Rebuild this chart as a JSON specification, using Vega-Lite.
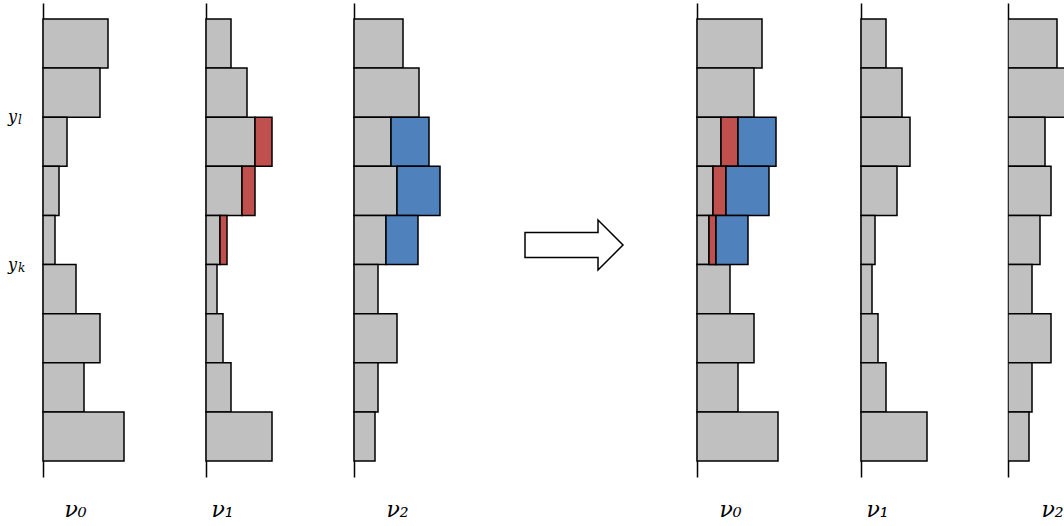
{
  "$schema": "https://vega.github.io/schema/vega-lite/v6.json",
  "autosize": {"type": "pad"},
  "padding": {"left": 7, "top": 3, "right": 0, "bottom": 0},
  "bounds": "flush",
  "spacing": 0,
  "config": {
    "view": {"stroke": null},
    "font": "DejaVu Serif"
  },
  "data": {
    "values": [
      {"stage": "before", "node": "ν₀", "bin": 0, "share": "held", "count": 6.5},
      {"stage": "before", "node": "ν₀", "bin": 1, "share": "held", "count": 5.7},
      {"stage": "before", "node": "ν₀", "bin": 2, "share": "held", "count": 2.4},
      {"stage": "before", "node": "ν₀", "bin": 3, "share": "held", "count": 1.6},
      {"stage": "before", "node": "ν₀", "bin": 4, "share": "held", "count": 1.2},
      {"stage": "before", "node": "ν₀", "bin": 5, "share": "held", "count": 3.3},
      {"stage": "before", "node": "ν₀", "bin": 6, "share": "held", "count": 5.7},
      {"stage": "before", "node": "ν₀", "bin": 7, "share": "held", "count": 4.1},
      {"stage": "before", "node": "ν₀", "bin": 8, "share": "held", "count": 8.1},

      {"stage": "before", "node": "ν₁", "bin": 0, "share": "held", "count": 2.5},
      {"stage": "before", "node": "ν₁", "bin": 1, "share": "held", "count": 4.1},
      {"stage": "before", "node": "ν₁", "bin": 2, "share": "held", "count": 4.9},
      {"stage": "before", "node": "ν₁", "bin": 3, "share": "held", "count": 3.6},
      {"stage": "before", "node": "ν₁", "bin": 4, "share": "held", "count": 1.4},
      {"stage": "before", "node": "ν₁", "bin": 5, "share": "held", "count": 1.1},
      {"stage": "before", "node": "ν₁", "bin": 6, "share": "held", "count": 1.7},
      {"stage": "before", "node": "ν₁", "bin": 7, "share": "held", "count": 2.5},
      {"stage": "before", "node": "ν₁", "bin": 8, "share": "held", "count": 6.6},
      {"stage": "before", "node": "ν₁", "bin": 2, "share": "moved from ν₁", "count": 1.7},
      {"stage": "before", "node": "ν₁", "bin": 3, "share": "moved from ν₁", "count": 1.3},
      {"stage": "before", "node": "ν₁", "bin": 4, "share": "moved from ν₁", "count": 0.7},

      {"stage": "before", "node": "ν₂", "bin": 0, "share": "held", "count": 4.9},
      {"stage": "before", "node": "ν₂", "bin": 1, "share": "held", "count": 6.5},
      {"stage": "before", "node": "ν₂", "bin": 2, "share": "held", "count": 3.7},
      {"stage": "before", "node": "ν₂", "bin": 3, "share": "held", "count": 4.3},
      {"stage": "before", "node": "ν₂", "bin": 4, "share": "held", "count": 3.2},
      {"stage": "before", "node": "ν₂", "bin": 5, "share": "held", "count": 2.4},
      {"stage": "before", "node": "ν₂", "bin": 6, "share": "held", "count": 4.3},
      {"stage": "before", "node": "ν₂", "bin": 7, "share": "held", "count": 2.4},
      {"stage": "before", "node": "ν₂", "bin": 8, "share": "held", "count": 2.1},
      {"stage": "before", "node": "ν₂", "bin": 2, "share": "moved from ν₂", "count": 3.8},
      {"stage": "before", "node": "ν₂", "bin": 3, "share": "moved from ν₂", "count": 4.3},
      {"stage": "before", "node": "ν₂", "bin": 4, "share": "moved from ν₂", "count": 3.2},

      {"stage": "after", "node": "ν₀", "bin": 0, "share": "held", "count": 6.5},
      {"stage": "after", "node": "ν₀", "bin": 1, "share": "held", "count": 5.7},
      {"stage": "after", "node": "ν₀", "bin": 2, "share": "held", "count": 2.4},
      {"stage": "after", "node": "ν₀", "bin": 3, "share": "held", "count": 1.6},
      {"stage": "after", "node": "ν₀", "bin": 4, "share": "held", "count": 1.2},
      {"stage": "after", "node": "ν₀", "bin": 5, "share": "held", "count": 3.3},
      {"stage": "after", "node": "ν₀", "bin": 6, "share": "held", "count": 5.7},
      {"stage": "after", "node": "ν₀", "bin": 7, "share": "held", "count": 4.1},
      {"stage": "after", "node": "ν₀", "bin": 8, "share": "held", "count": 8.1},
      {"stage": "after", "node": "ν₀", "bin": 2, "share": "moved from ν₁", "count": 1.7},
      {"stage": "after", "node": "ν₀", "bin": 3, "share": "moved from ν₁", "count": 1.3},
      {"stage": "after", "node": "ν₀", "bin": 4, "share": "moved from ν₁", "count": 0.7},
      {"stage": "after", "node": "ν₀", "bin": 2, "share": "moved from ν₂", "count": 3.8},
      {"stage": "after", "node": "ν₀", "bin": 3, "share": "moved from ν₂", "count": 4.3},
      {"stage": "after", "node": "ν₀", "bin": 4, "share": "moved from ν₂", "count": 3.2},

      {"stage": "after", "node": "ν₁", "bin": 0, "share": "held", "count": 2.5},
      {"stage": "after", "node": "ν₁", "bin": 1, "share": "held", "count": 4.1},
      {"stage": "after", "node": "ν₁", "bin": 2, "share": "held", "count": 4.9},
      {"stage": "after", "node": "ν₁", "bin": 3, "share": "held", "count": 3.6},
      {"stage": "after", "node": "ν₁", "bin": 4, "share": "held", "count": 1.4},
      {"stage": "after", "node": "ν₁", "bin": 5, "share": "held", "count": 1.1},
      {"stage": "after", "node": "ν₁", "bin": 6, "share": "held", "count": 1.7},
      {"stage": "after", "node": "ν₁", "bin": 7, "share": "held", "count": 2.5},
      {"stage": "after", "node": "ν₁", "bin": 8, "share": "held", "count": 6.6},

      {"stage": "after", "node": "ν₂", "bin": 0, "share": "held", "count": 4.9},
      {"stage": "after", "node": "ν₂", "bin": 1, "share": "held", "count": 6.5},
      {"stage": "after", "node": "ν₂", "bin": 2, "share": "held", "count": 3.7},
      {"stage": "after", "node": "ν₂", "bin": 3, "share": "held", "count": 4.3},
      {"stage": "after", "node": "ν₂", "bin": 4, "share": "held", "count": 3.2},
      {"stage": "after", "node": "ν₂", "bin": 5, "share": "held", "count": 2.4},
      {"stage": "after", "node": "ν₂", "bin": 6, "share": "held", "count": 4.3},
      {"stage": "after", "node": "ν₂", "bin": 7, "share": "held", "count": 2.4},
      {"stage": "after", "node": "ν₂", "bin": 8, "share": "held", "count": 2.1}
    ]
  },
  "hconcat": [
    {
      "width": 163, "height": 474,
      "layer": [
        {
          "transform": [{"filter": "datum.stage === 'before' && datum.node === 'ν₀'"}],
          "mark": {"type": "bar", "stroke": "#000", "strokeWidth": 1.5},
          "encoding": {
            "y": {"field": "bin", "type": "ordinal",
              "scale": {"paddingInner": 0, "paddingOuter": 0.326},
              "axis": {"title": null, "domain": true, "domainColor": "#000", "domainWidth": 1.5, "ticks": false, "labels": false, "grid": false}},
            "x": {"field": "count", "type": "quantitative", "stack": "zero",
              "scale": {"domain": [0, 16.3], "nice": false},
              "axis": {"domain": false, "ticks": false, "labels": false, "grid": false,
                "title": "ν₀", "titleX": 32, "titleY": 39, "titleAlign": "center", "titleBaseline": "alphabetic",
                "titleFont": "DejaVu Serif", "titleFontStyle": "italic", "titleFontWeight": "normal", "titleFontSize": 22, "titleColor": "#000"}},
            "color": {"field": "share", "type": "nominal",
              "scale": {"domain": ["held", "moved from ν₁", "moved from ν₂"], "range": ["#C0C0C0", "#C0504D", "#4F81BD"]},
              "legend": null},
            "order": {"field": "share"}
          }
        },
        {
          "data": {"values": [{"bin": 2, "symbol": "y", "index": "l"}, {"bin": 5, "symbol": "y", "index": "k"}]},
          "mark": {"type": "text", "align": "right", "baseline": "middle", "font": "DejaVu Serif", "fontStyle": "italic",
            "fontSize": 16, "color": "#000", "dx": -26, "dy": 0},
          "encoding": {
            "y": {"field": "bin", "type": "ordinal", "bandPosition": 0},
            "x": {"datum": 0},
            "text": {"field": "symbol"}
          }
        },
        {
          "data": {"values": [{"bin": 2, "symbol": "y", "index": "l"}, {"bin": 5, "symbol": "y", "index": "k"}]},
          "mark": {"type": "text", "align": "left", "baseline": "middle", "font": "DejaVu Serif", "fontStyle": "italic",
            "fontSize": 12, "color": "#000", "dx": -25, "dy": 3},
          "encoding": {
            "y": {"field": "bin", "type": "ordinal", "bandPosition": 0},
            "x": {"datum": 0},
            "text": {"field": "index"}
          }
        }
      ]
    },
    {
      "width": 148, "height": 474,
      "transform": [{"filter": "datum.stage === 'before' && datum.node === 'ν₁'"}],
      "mark": {"type": "bar", "stroke": "#000", "strokeWidth": 1.5},
      "encoding": {
        "y": {"field": "bin", "type": "ordinal",
          "scale": {"paddingInner": 0, "paddingOuter": 0.326},
          "axis": {"title": null, "domain": true, "domainColor": "#000", "domainWidth": 1.5, "ticks": false, "labels": false, "grid": false}},
        "x": {"field": "count", "type": "quantitative", "stack": "zero",
          "scale": {"domain": [0, 14.8], "nice": false},
          "axis": {"domain": false, "ticks": false, "labels": false, "grid": false,
            "title": "ν₁", "titleX": 16, "titleY": 39, "titleAlign": "center", "titleBaseline": "alphabetic",
            "titleFont": "DejaVu Serif", "titleFontStyle": "italic", "titleFontWeight": "normal", "titleFontSize": 22, "titleColor": "#000"}},
        "color": {"field": "share", "type": "nominal", "legend": null},
        "order": {"field": "share"}
      }
    },
    {
      "width": 97, "height": 474,
      "transform": [{"filter": "datum.stage === 'before' && datum.node === 'ν₂'"}],
      "mark": {"type": "bar", "stroke": "#000", "strokeWidth": 1.5},
      "encoding": {
        "y": {"field": "bin", "type": "ordinal",
          "scale": {"paddingInner": 0, "paddingOuter": 0.326},
          "axis": {"title": null, "domain": true, "domainColor": "#000", "domainWidth": 1.5, "ticks": false, "labels": false, "grid": false}},
        "x": {"field": "count", "type": "quantitative", "stack": "zero",
          "scale": {"domain": [0, 9.7], "nice": false},
          "axis": {"domain": false, "ticks": false, "labels": false, "grid": false,
            "title": "ν₂", "titleX": 43, "titleY": 39, "titleAlign": "center", "titleBaseline": "alphabetic",
            "titleFont": "DejaVu Serif", "titleFontStyle": "italic", "titleFontWeight": "normal", "titleFontSize": 22, "titleColor": "#000"}},
        "color": {"field": "share", "type": "nominal", "legend": null},
        "order": {"field": "share"}
      }
    },
    {
      "width": 246, "height": 474,
      "data": {"values": [{"step": "merge into ν₀"}]},
      "mark": {"type": "point",
        "shape": "M -1 -0.255 L 0.49 -0.255 L 0.49 -0.51 L 1 0 L 0.49 0.51 L 0.49 0.255 L -1 0.255 Z",
        "size": 9604, "filled": true, "fill": "#ffffff", "stroke": "#000", "strokeWidth": 1.5, "opacity": 1, "yOffset": 5},
      "encoding": {}
    },
    {
      "width": 164, "height": 474,
      "transform": [{"filter": "datum.stage === 'after' && datum.node === 'ν₀'"}],
      "mark": {"type": "bar", "stroke": "#000", "strokeWidth": 1.5},
      "encoding": {
        "y": {"field": "bin", "type": "ordinal",
          "scale": {"paddingInner": 0, "paddingOuter": 0.326},
          "axis": {"title": null, "domain": true, "domainColor": "#000", "domainWidth": 1.5, "ticks": false, "labels": false, "grid": false}},
        "x": {"field": "count", "type": "quantitative", "stack": "zero",
          "scale": {"domain": [0, 16.4], "nice": false},
          "axis": {"domain": false, "ticks": false, "labels": false, "grid": false,
            "title": "ν₀", "titleX": 33, "titleY": 39, "titleAlign": "center", "titleBaseline": "alphabetic",
            "titleFont": "DejaVu Serif", "titleFontStyle": "italic", "titleFontWeight": "normal", "titleFontSize": 22, "titleColor": "#000"}},
        "color": {"field": "share", "type": "nominal", "legend": null},
        "order": {"field": "share"}
      }
    },
    {
      "width": 147, "height": 474,
      "transform": [{"filter": "datum.stage === 'after' && datum.node === 'ν₁'"}],
      "mark": {"type": "bar", "stroke": "#000", "strokeWidth": 1.5},
      "encoding": {
        "y": {"field": "bin", "type": "ordinal",
          "scale": {"paddingInner": 0, "paddingOuter": 0.326},
          "axis": {"title": null, "domain": true, "domainColor": "#000", "domainWidth": 1.5, "ticks": false, "labels": false, "grid": false}},
        "x": {"field": "count", "type": "quantitative", "stack": "zero",
          "scale": {"domain": [0, 14.7], "nice": false},
          "axis": {"domain": false, "ticks": false, "labels": false, "grid": false,
            "title": "ν₁", "titleX": 16, "titleY": 39, "titleAlign": "center", "titleBaseline": "alphabetic",
            "titleFont": "DejaVu Serif", "titleFontStyle": "italic", "titleFontWeight": "normal", "titleFontSize": 22, "titleColor": "#000"}},
        "color": {"field": "share", "type": "nominal", "legend": null},
        "order": {"field": "share"}
      }
    },
    {
      "width": 56, "height": 474,
      "transform": [{"filter": "datum.stage === 'after' && datum.node === 'ν₂'"}],
      "mark": {"type": "bar", "stroke": "#000", "strokeWidth": 1.5, "clip": true},
      "encoding": {
        "y": {"field": "bin", "type": "ordinal",
          "scale": {"paddingInner": 0, "paddingOuter": 0.326},
          "axis": {"title": null, "domain": true, "domainColor": "#000", "domainWidth": 1.5, "ticks": false, "labels": false, "grid": false}},
        "x": {"field": "count", "type": "quantitative", "stack": "zero",
          "scale": {"domain": [0, 5.6], "nice": false},
          "axis": {"domain": false, "ticks": false, "labels": false, "grid": false,
            "title": "ν₂", "titleX": 44, "titleY": 39, "titleAlign": "center", "titleBaseline": "alphabetic",
            "titleFont": "DejaVu Serif", "titleFontStyle": "italic", "titleFontWeight": "normal", "titleFontSize": 22, "titleColor": "#000"}},
        "color": {"field": "share", "type": "nominal", "legend": null},
        "order": {"field": "share"}
      }
    }
  ]
}
